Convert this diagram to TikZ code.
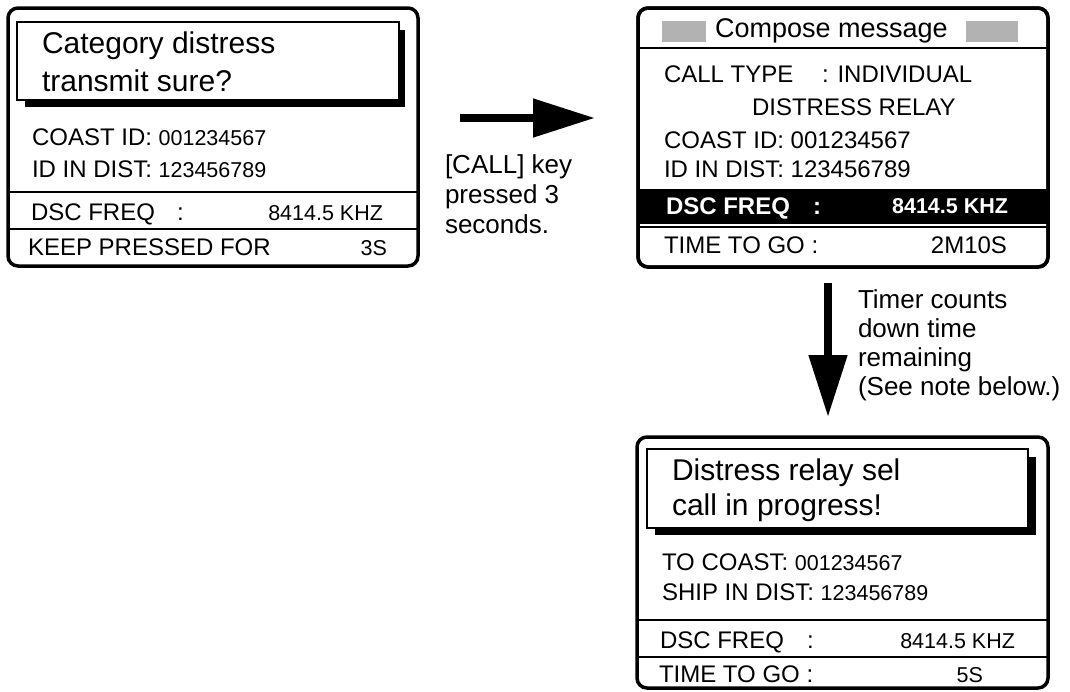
\documentclass[tikz,border=0pt]{standalone}
\usepackage{fontspec}
\setmainfont{Liberation Sans}
\usetikzlibrary{arrows.meta}
\newcommand{\fsA}{\fontsize{30}{34}\selectfont}
\newcommand{\fsB}{\fontsize{24}{28}\selectfont}
\newcommand{\fsC}{\fontsize{21.5}{26}\selectfont}
\newcommand{\fsD}{\fontsize{26}{30}\selectfont}
\newcommand{\fsE}{\fontsize{27}{31}\selectfont}
\begin{document}
\begin{tikzpicture}[x=1pt,y=-1pt,
  frame/.style={line width=3.5pt,rounded corners=10pt,draw=black,fill=white},
  titlebox/.style={line width=2pt,draw=black,fill=white},
  shadowbox/.style={fill=black,draw=none},
  sep/.style={line width=2.5pt},
  txt/.style={inner sep=0pt,outer sep=0pt,anchor=base west},
  txtr/.style={inner sep=0pt,outer sep=0pt,anchor=base east},
  bigarrow/.style={line width=8pt,-{Triangle[length=62pt,width=37pt]}}]
\path[use as bounding box] (0,0) rectangle (1070,691);

% ---------- Panel 1 ----------
\draw[frame] (8,8) rectangle (418,266);
\fill[shadowbox] (25,30) rectangle (405,107);
\draw[titlebox] (17,22) rectangle (399,100);
\node[txt,font=\fsA] (p1a) at (42,53) {Category distress};
\node[txt,font=\fsA] (p1b) at (42,91) {transmit sure?};
\node[txt,font=\fsB] (p1c) at (32,145) {COAST ID: {\fsC 001234567}};
\node[txt,font=\fsB] (p1d) at (32,177) {ID IN DIST: {\fsC 123456789}};
\draw[sep] (8,192) -- (418,192);
\node[txt,font=\fsB] (p1e) at (31,220) {DSC FREQ};
\node[txt,font=\fsB] (p1f) at (177,220) {:};
\node[txtr,font=\fsC] (p1g) at (383,220) {8414.5 KHZ};
\draw[sep] (8,229) -- (418,229);
\node[txt,font=\fsB] (p1h) at (28,255) {KEEP PRESSED FOR};
\node[txtr,font=\fsC] (p1i) at (387,255) {3S};

% ---------- Panel 2 ----------
\draw[frame] (638,8) rectangle (1048,267);
\fill[black!30] (662,21) rectangle (706,42);
\fill[black!30] (966,21) rectangle (1018,42);
\node[txt,font=\fsE] (p2a) at (715,37) {Compose message};
\draw[line width=2pt] (638,48) -- (1048,48);
\node[txt,font=\fsB] (p2b) at (664,82) {CALL TYPE};
\node[txt,font=\fsB] (p2c) at (822,82) {: INDIVIDUAL};
\node[txt,font=\fsB] (p2d) at (752,115) {DISTRESS RELAY};
\node[txt,font=\fsB] (p2e) at (664,148) {COAST ID: 001234567};
\node[txt,font=\fsB] (p2f) at (664,177) {ID IN DIST: 123456789};
\fill[black] (638,189) rectangle (1048,224);
\node[txt,font=\fsB\bfseries,text=white] (p2g) at (666,214) {DSC FREQ};
\node[txt,font=\fsB\bfseries,text=white] (p2h) at (813,214) {:};
\node[txtr,font=\fsC\bfseries,text=white] (p2i) at (1008,213) {8414.5 KHZ};
\draw[line width=2pt] (638,227) -- (1048,227);
\node[txt,font=\fsB] (p2j) at (664,253) {TIME TO GO :};
\node[txtr,font=\fsB] (p2k) at (1007,253) {2M10S};
\draw[line width=3.5pt,rounded corners=10pt] (638,8) rectangle (1048,267);

% ---------- Panel 3 ----------
\draw[frame] (637,437) rectangle (1048,688);
\fill[shadowbox] (655,457) rectangle (1036,535);
\draw[titlebox] (647,449) rectangle (1028,528);
\node[txt,font=\fsA] (p3a) at (672,480) {Distress relay sel};
\node[txt,font=\fsA] (p3b) at (672,515) {call in progress!};
\node[txt,font=\fsB] (p3c) at (662,570) {TO COAST: {\fsC 001234567}};
\node[txt,font=\fsB] (p3d) at (662,600) {SHIP IN DIST: {\fsC 123456789}};
\draw[sep] (637,620) -- (1048,620);
\node[txt,font=\fsB] (p3e) at (660,648) {DSC FREQ};
\node[txt,font=\fsB] (p3f) at (807,648) {:};
\node[txtr,font=\fsC] (p3g) at (1015,648) {8414.5 KHZ};
\draw[sep] (637,657) -- (1048,657);
\node[txt,font=\fsB] (p3h) at (659,682) {TIME TO GO :};
\node[txtr,font=\fsC] (p3i) at (983,682) {5S};

% ---------- Arrows ----------
\coordinate (a1s) at (460,118);
\coordinate (a1e) at (595,118);
\draw[bigarrow] (a1s) -- (a1e);
\node[txt,font=\fsD] (l1a) at (445,173) {[CALL] key};
\node[txt,font=\fsD] (l1b) at (445,203) {pressed 3};
\node[txt,font=\fsD] (l1c) at (445,233) {seconds.};

\coordinate (a2s) at (828,283);
\coordinate (a2e) at (828,417);
\draw[bigarrow] (a2s) -- (a2e);
\node[txt,font=\fsD] (l2a) at (858,308) {Timer counts};
\node[txt,font=\fsD] (l2b) at (858,337) {down time};
\node[txt,font=\fsD] (l2c) at (858,366) {remaining};
\node[txt,font=\fsD] (l2d) at (858,395) {(See note below.)};
\end{tikzpicture}
\end{document}
